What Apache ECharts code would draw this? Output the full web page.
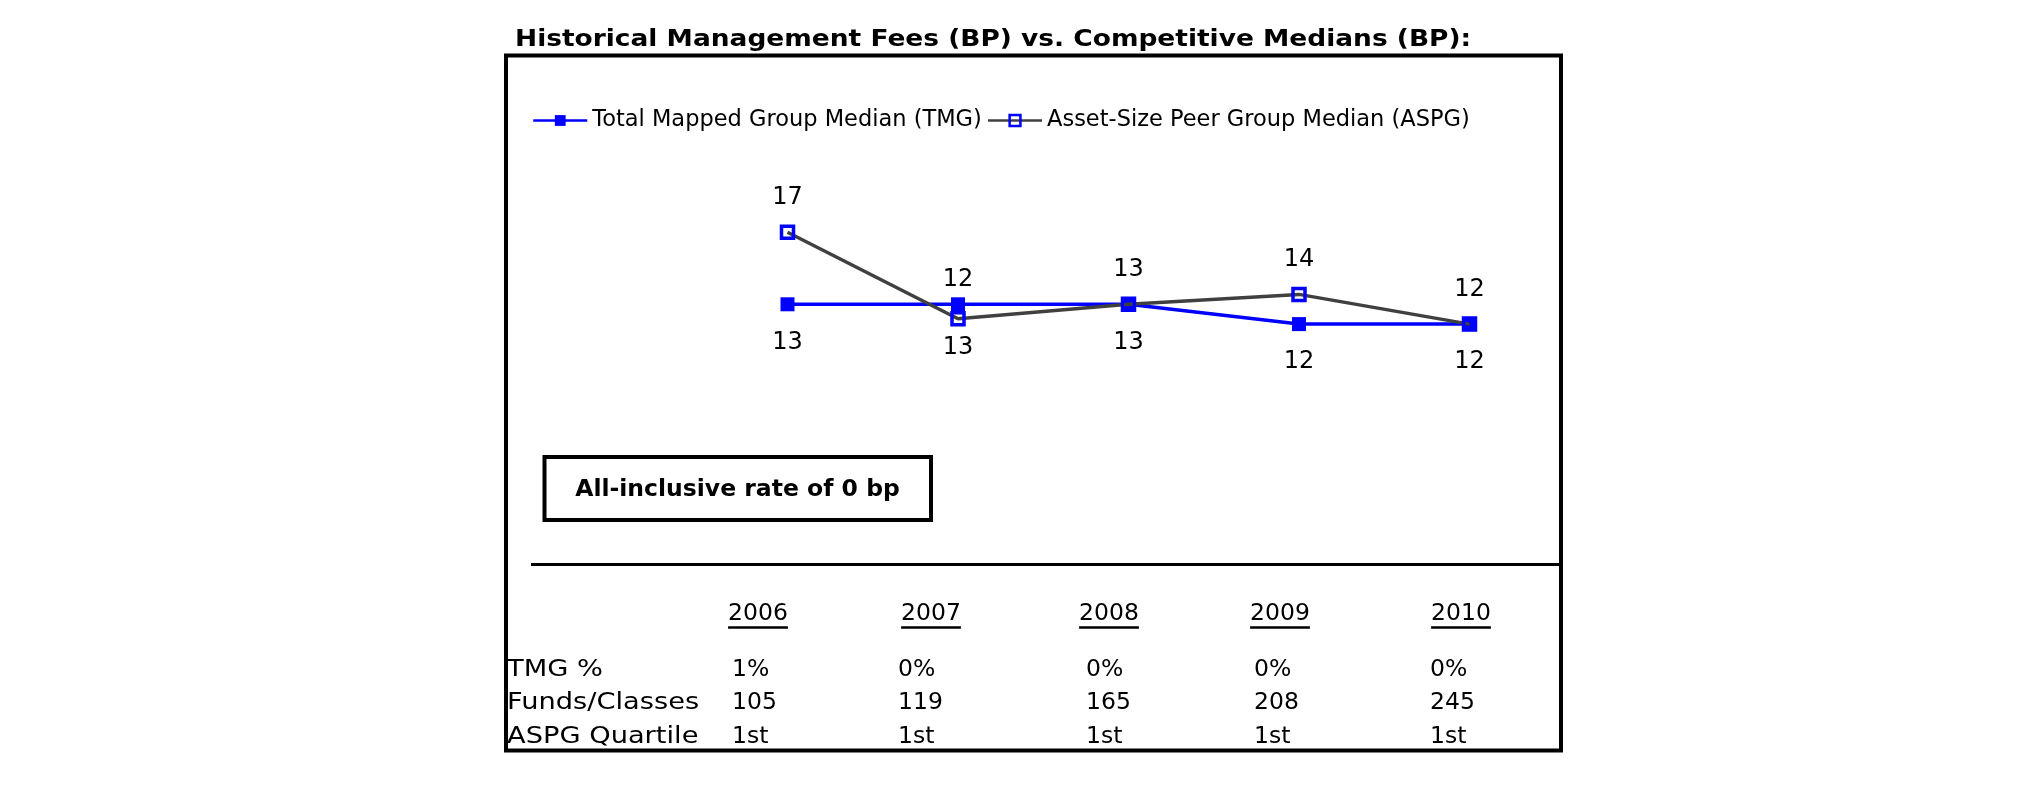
<!DOCTYPE html>
<html><head><meta charset="utf-8">
<script src="https://cdn.jsdelivr.net/npm/echarts@6/dist/echarts.min.js"></script>
<style>html,body{margin:0;padding:0;background:#fff}#c{width:2025px;height:806px}</style>
</head><body><div id="c"></div>
<script>
// ---- data ----
const years = ['2006', '2007', '2008', '2009', '2010'];
const tmgMedian = [13, 13, 13, 11.9, 11.9];
const aspgMedian = [17, 12.2, 13, 13.55, 11.9];
const seriesNames = ['Total Mapped Group Median (TMG)', 'Asset-Size Peer Group Median (ASPG)'];
const rowLabels = ['TMG %', 'Funds/Classes', 'ASPG Quartile'];
const tmgPct = ['1%', '0%', '0%', '0%', '0%'];
const fundsClasses = ['105', '119', '165', '208', '245'];
const aspgQuartile = ['1st', '1st', '1st', '1st', '1st'];
const titleText = 'Historical Management Fees (BP) vs. Competitive Medians (BP):';
const noteText = 'All-inclusive rate of 0 bp';

// ---- layout ----
const FF = '"DejaVu Sans", Verdana, sans-serif';
const yearCenters = [758, 931, 1109, 1280, 1461];
const valueLefts = [732, 898, 1086, 1254, 1430];
const rowYs = [669.5, 703, 736.5];
const yearY = 614;

const ctx = document.createElement('canvas').getContext('2d');
function tw(text, font) { ctx.font = font; return ctx.measureText(text).width; }

const tableFont = 'normal 23.5px ' + FF;
const graphics = [];
function txt(x, y, text, font, align, sx) {
  graphics.push({
    type: 'text', x: x, y: y, scaleX: sx || 1, silent: true,
    style: { text: text, x: 0, y: 0, font: font, fill: '#000',
      textAlign: align, textVerticalAlign: 'middle', align: align, verticalAlign: 'middle' }
  });
}
// outer frame
graphics.push({ type: 'rect', shape: { x: 506, y: 55.5, width: 1055, height: 695 },
  style: { fill: 'none', stroke: '#000', lineWidth: 4 }, silent: true });
// title
txt(515, 40, titleText, 'bold 23.5px ' + FF, 'left', 1.125);
// note box
graphics.push({ type: 'rect', shape: { x: 544.5, y: 457, width: 386.5, height: 63 },
  style: { fill: '#fff', stroke: '#000', lineWidth: 4 }, silent: true });
txt(737.5, 490, noteText, 'bold 23.5px ' + FF, 'center', 1);
// separator
graphics.push({ type: 'line', shape: { x1: 531, y1: 564.5, x2: 1559, y2: 564.5 },
  style: { stroke: '#000', lineWidth: 3 }, silent: true });
// table
years.forEach(function (yr, i) {
  txt(yearCenters[i], yearY, yr, tableFont, 'center', 1);
  const w = tw(yr, tableFont);
  graphics.push({ type: 'line', shape: { x1: yearCenters[i] - w / 2, y1: 627.5, x2: yearCenters[i] + w / 2, y2: 627.5 },
    style: { stroke: '#000', lineWidth: 2.5 }, silent: true });
});
rowLabels.forEach(function (lb, r) { txt(507, rowYs[r], lb, tableFont, 'left', 1.16); });
[tmgPct, fundsClasses, aspgQuartile].forEach(function (row, r) {
  row.forEach(function (v, i) { txt(valueLefts[i], rowYs[r], v, tableFont, 'left', 1); });
});

const chart = echarts.init(document.getElementById('c'), null, { renderer: 'canvas' });
const labelBase = { show: true, fontSize: 24, fontFamily: FF, color: '#000',
  formatter: function (p) { return String(Math.round(p.value)); } };
chart.setOption({
  animation: false,
  backgroundColor: '#fff',
  grid: { left: 787.5, right: 555.5, top: 214.3, bottom: 447.7 },
  xAxis: { type: 'category', data: years, boundaryGap: false, show: false },
  yAxis: { type: 'value', min: 10, max: 18, show: false },
  legend: {
    left: 527, top: 104, itemWidth: 54, itemHeight: 13.5, itemGap: 5, selectedMode: false,
    textStyle: { fontFamily: FF, fontSize: 22.5, color: '#000' },
    data: [
      { name: seriesNames[0], lineStyle: { width: 2.5 } },
      { name: seriesNames[1], lineStyle: { width: 2.5 }, itemStyle: { borderWidth: 2.5 } }
    ]
  },
  series: [
    { name: seriesNames[0], type: 'line', data: tmgMedian, z: 2,
      symbol: 'rect', symbolSize: 14,
      itemStyle: { color: '#0000ff' }, lineStyle: { color: '#0000ff', width: 3.5 },
      label: Object.assign({}, labelBase, { position: 'bottom', distance: 19 }),
      labelLayout: function (p) { return p.dataIndex === 1 ? { dy: 5 } : {}; } },
    { name: seriesNames[1], type: 'line', data: aspgMedian, z: 3,
      symbol: 'rect', symbolSize: 12,
      itemStyle: { color: 'rgba(255,255,255,0)', borderColor: '#0000ff', borderWidth: 3.5 },
      lineStyle: { color: '#404040', width: 3.5 },
      label: Object.assign({}, labelBase, { position: 'top', distance: 15 }),
      labelLayout: function (p) { return p.dataIndex === 1 ? { dy: -4 } : {}; } }
  ],
  graphic: graphics
});
</script></body></html>
